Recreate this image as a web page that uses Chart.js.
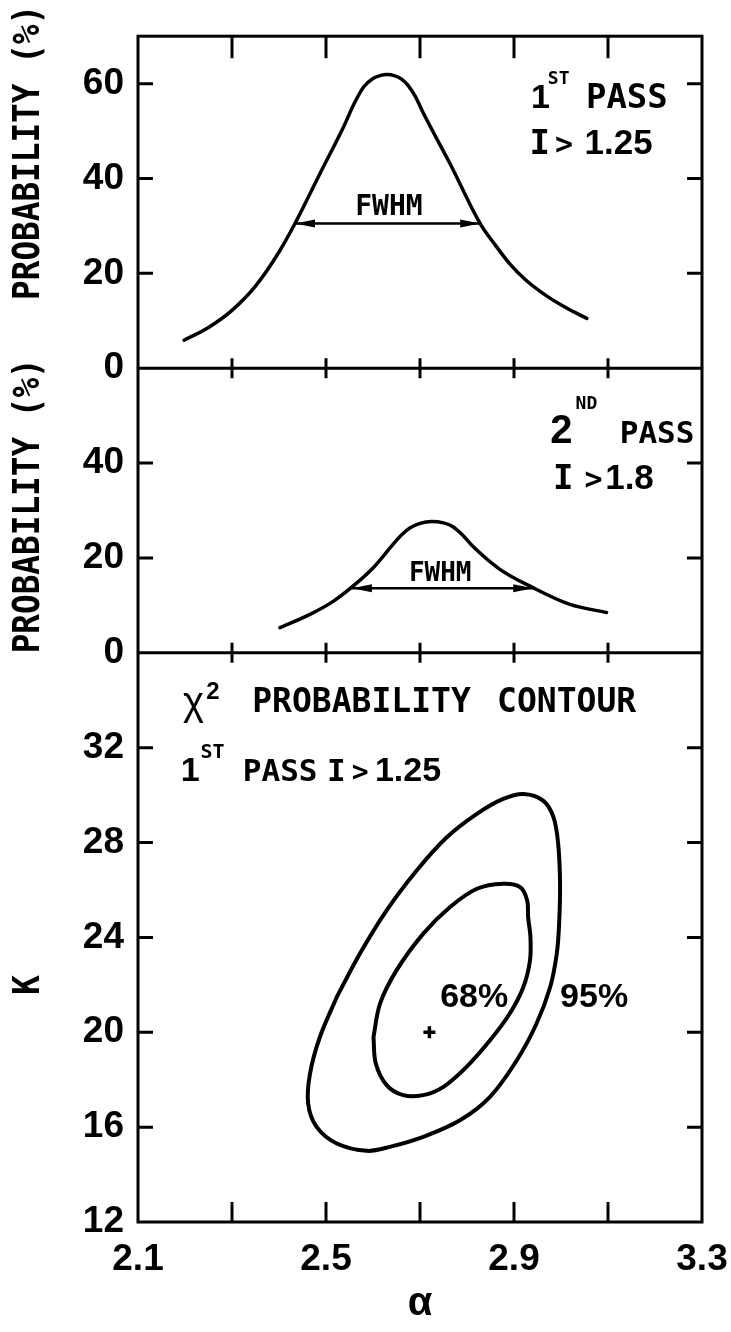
<!DOCTYPE html>
<html>
<head>
<meta charset="utf-8">
<title>Probability vs alpha</title>
<script src="https://cdn.jsdelivr.net/npm/chart.js@4.4.1/dist/chart.umd.min.js"></script>
<style>
  html, body { margin: 0; padding: 0; background: #fff; }
  #chart { display: block; }
</style>
</head>
<body>
<canvas id="chart" width="731" height="1332"></canvas>
<script>
// alpha axis: labelled values and tick marks
const alphaLabels = [2.1, 2.5, 2.9, 3.3];
const alphaMarks = [2.3, 2.5, 2.7, 2.9, 3.1];

// y ticks of the three panels
const probTopTicks = [0, 20, 40, 60];
const probMidTicks = [0, 20, 40];
const kTicks = [12, 16, 20, 24, 28, 32];

// 1st pass, I > 1.25
const pass1Alpha = [2.198, 2.250, 2.300, 2.350, 2.400, 2.434, 2.487, 2.537, 2.560, 2.580, 2.600, 2.615, 2.630, 2.645, 2.660, 2.675, 2.690, 2.707, 2.764, 2.828, 2.860, 2.891, 2.925, 2.970, 3.010, 3.055];
const pass1Prob = [5.9, 8.6, 12.2, 17.3, 24.5, 30.5, 41.0, 50.8, 55.8, 59.3, 61.1, 61.7, 61.9, 61.7, 61.0, 59.6, 57.3, 53.8, 43.1, 30.5, 26.0, 22.0, 18.6, 15.2, 12.8, 10.5];
const pass1Fwhm = [2.434, 2.828];
const pass1Half = 30.5;

// 2nd pass, I > 1.8
const pass2Alpha = [2.402, 2.466, 2.516, 2.558, 2.601, 2.643, 2.660, 2.680, 2.700, 2.725, 2.750, 2.770, 2.790, 2.813, 2.870, 2.941, 3.019, 3.097];
const pass2Prob = [5.3, 8.1, 10.9, 14.1, 18.0, 22.9, 24.8, 26.4, 27.3, 27.7, 27.4, 26.6, 24.9, 22.4, 17.6, 13.7, 10.2, 8.5];
const pass2Fwhm = [2.555, 2.941];
const pass2Half = 13.6;

// chi-square contours (closed loops)
const c95Alpha = [2.523, 2.572, 2.629, 2.693, 2.757, 2.821, 2.877, 2.920, 2.962, 2.984, 2.994, 2.998, 2.996, 2.991, 2.977, 2.948, 2.906, 2.849, 2.785, 2.707, 2.636, 2.587, 2.523, 2.480, 2.462, 2.466, 2.487, 2.523];
const c95K = [21.49, 23.31, 25.14, 26.82, 28.22, 29.21, 29.84, 30.05, 29.77, 29.07, 27.94, 26.26, 24.58, 23.31, 21.91, 20.37, 18.82, 17.28, 16.29, 15.59, 15.17, 15.0, 15.31, 16.01, 17.0, 18.26, 19.80, 21.49];
const c68Alpha = [2.601, 2.615, 2.650, 2.707, 2.764, 2.821, 2.877, 2.913, 2.928, 2.930, 2.935, 2.934, 2.920, 2.891, 2.849, 2.799, 2.750, 2.707, 2.664, 2.629, 2.606, 2.601];
const c68K = [19.80, 21.21, 22.61, 24.16, 25.28, 26.05, 26.26, 26.12, 25.56, 24.86, 24.01, 23.03, 21.91, 20.79, 19.66, 18.54, 17.70, 17.35, 17.35, 17.77, 18.68, 19.80];
const bestAlpha = [2.72];
const bestK = [20];

const pts = (xs, ys) => xs.map((x, i) => ({ x: x, y: ys[i] }));

const SANS_B = n => `bold ${n}px "Liberation Sans", Arial, sans-serif`;
const SANS = n => `${n}px "Liberation Sans", Arial, sans-serif`;
const MONO_B = n => `bold ${n}px "DejaVu Sans Mono", "Liberation Mono", monospace`;

// lettering inside the panels, placed in data units of each panel
const notes = [
  { axis: 'yTop', x: 2.936, y: 54.9, text: '1', font: SANS_B(34) },
  { axis: 'yTop', x: 2.972, y: 60.0, text: 'ST', font: MONO_B(18) },
  { axis: 'yTop', x: 3.053, y: 54.9, text: 'PASS', font: MONO_B(34) },
  { axis: 'yTop', x: 2.933, y: 45.2, text: 'I', font: MONO_B(34) },
  { axis: 'yTop', x: 2.987, y: 45.2, text: '>', font: MONO_B(30) },
  { axis: 'yTop', x: 3.050, y: 45.2, text: '1.25', font: SANS_B(35) },
  { axis: 'yTop', x: 2.634, y: 32.4, text: 'FWHM', font: MONO_B(28), align: 'center' },

  { axis: 'yMid', x: 2.977, y: 44.3, text: '2', font: SANS_B(40) },
  { axis: 'yMid', x: 3.031, y: 51.3, text: 'ND', font: MONO_B(18) },
  { axis: 'yMid', x: 3.125, y: 44.3, text: 'PASS', font: MONO_B(31) },
  { axis: 'yMid', x: 2.983, y: 34.5, text: 'I', font: MONO_B(34) },
  { axis: 'yMid', x: 3.050, y: 34.5, text: '>', font: MONO_B(30) },
  { axis: 'yMid', x: 3.094, y: 34.5, text: '1.8', font: SANS_B(35) },
  { axis: 'yMid', x: 2.743, y: 15.2, text: 'FWHM', font: MONO_B(26), align: 'center' },

  { axis: 'yK', x: 2.196, y: 33.36, text: 'χ', font: SANS(40) },
  { axis: 'yK', x: 2.245, y: 34.06, text: '2', font: SANS_B(24) },
  { axis: 'yK', x: 2.343, y: 33.49, text: 'PROBABILITY', font: MONO_B(33) },
  { axis: 'yK', x: 2.864, y: 33.49, text: 'CONTOUR', font: MONO_B(33) },
  { axis: 'yK', x: 2.191, y: 30.59, text: '1', font: SANS_B(34) },
  { axis: 'yK', x: 2.233, y: 31.58, text: 'ST', font: MONO_B(20) },
  { axis: 'yK', x: 2.323, y: 30.59, text: 'PASS', font: MONO_B(31) },
  { axis: 'yK', x: 2.502, y: 30.59, text: 'I', font: MONO_B(31) },
  { axis: 'yK', x: 2.555, y: 30.59, text: '>', font: MONO_B(28) },
  { axis: 'yK', x: 2.604, y: 30.59, text: '1.25', font: SANS_B(34) },
  { axis: 'yK', x: 2.743, y: 21.07, text: '68%', font: SANS_B(34) },
  { axis: 'yK', x: 2.998, y: 21.07, text: '95%', font: SANS_B(34) }
];

// rotated axis titles, centred on a value of their own panel
const yTitles = [
  { axis: 'yTop', y: 45.5, text: 'PROBABILITY (%)' },
  { axis: 'yMid', y: 31, text: 'PROBABILITY (%)' },
  { axis: 'yK', y: 22, text: 'K' }
];

const fwhmSets = [1, 3];

const figure = {
  id: 'figure',
  afterDraw(chart) {
    const { ctx, chartArea: a, scales } = chart;
    const x = scales.x;
    const seams = [scales.yTop.getPixelForValue(0), scales.yMid.getPixelForValue(0)];
    ctx.save();
    ctx.strokeStyle = '#000';
    ctx.fillStyle = '#000';
    ctx.lineCap = 'butt';

    // panel frames
    ctx.lineWidth = 3;
    ctx.strokeRect(a.left, a.top, a.right - a.left, a.bottom - a.top);
    ctx.beginPath();
    seams.forEach(s => { ctx.moveTo(a.left, s); ctx.lineTo(a.right, s); });

    // tick marks, pointing into the panels
    alphaMarks.forEach(v => {
      const px = x.getPixelForValue(v);
      ctx.moveTo(px, a.top); ctx.lineTo(px, a.top + 22);
      seams.forEach(s => { ctx.moveTo(px, s - 10); ctx.lineTo(px, s + 10); });
      ctx.moveTo(px, a.bottom); ctx.lineTo(px, a.bottom - 20);
    });
    [[scales.yTop, probTopTicks], [scales.yMid, probMidTicks], [scales.yK, kTicks]].forEach(([sc, vals]) => {
      vals.filter(v => v > sc.min).forEach(v => {
        const py = sc.getPixelForValue(v);
        ctx.moveTo(a.left, py); ctx.lineTo(a.left + 15, py);
        ctx.moveTo(a.right, py); ctx.lineTo(a.right - 15, py);
      });
    });
    ctx.stroke();

    // FWHM arrow heads
    fwhmSets.forEach(i => {
      const p = chart.getDatasetMeta(i).data;
      [[p[0], 1], [p[1], -1]].forEach(([pt, dir]) => {
        ctx.beginPath();
        ctx.moveTo(pt.x, pt.y);
        ctx.lineTo(pt.x + dir * 20, pt.y - 4);
        ctx.lineTo(pt.x + dir * 20, pt.y + 4);
        ctx.closePath();
        ctx.fill();
      });
    });

    // lettering
    ctx.textBaseline = 'alphabetic';
    notes.forEach(n => {
      ctx.font = n.font;
      ctx.textAlign = n.align || 'left';
      ctx.fillText(n.text, x.getPixelForValue(n.x), scales[n.axis].getPixelForValue(n.y));
    });

    // y titles, tall and a little condensed
    ctx.font = MONO_B(38);
    ctx.textAlign = 'center';
    ctx.textBaseline = 'middle';
    yTitles.forEach(t => {
      ctx.save();
      ctx.translate(29, scales[t.axis].getPixelForValue(t.y));
      ctx.rotate(-Math.PI / 2);
      ctx.scale(0.86, 1);
      ctx.fillText(t.text, 0, 0);
      ctx.restore();
    });
    ctx.restore();
  }
};

const yScale = (min, max, weight, tickVals) => ({
  type: 'linear',
  axis: 'y',
  position: 'left',
  stack: 'panels',
  stackWeight: weight,
  min: min,
  max: max,
  grid: { display: false, drawTicks: false },
  border: { display: false },
  ticks: { padding: 14, color: '#000', font: { family: '"Liberation Sans", Arial, sans-serif', size: 37, weight: 'bold' } },
  afterBuildTicks: s => { s.ticks = tickVals.map(v => ({ value: v })); },
  afterFit: s => { s.width = 138; }
});

const line = (data, axis, width, smooth) => Object.assign({
  data: data,
  yAxisID: axis,
  showLine: true,
  borderColor: '#000',
  borderWidth: width,
  pointRadius: 0,
  fill: false,
  borderJoinStyle: 'round',
  borderCapStyle: 'round'
}, smooth);

new Chart(document.getElementById('chart'), {
  type: 'scatter',
  data: {
    datasets: [
      line(pts(pass1Alpha, pass1Prob), 'yTop', 3.5, { cubicInterpolationMode: 'monotone' }),
      line(pts(pass1Fwhm, [pass1Half, pass1Half]), 'yTop', 2.5, { tension: 0 }),
      line(pts(pass2Alpha, pass2Prob), 'yMid', 3.5, { cubicInterpolationMode: 'monotone' }),
      line(pts(pass2Fwhm, [pass2Half, pass2Half]), 'yMid', 2.5, { tension: 0 }),
      line(pts(c95Alpha, c95K), 'yK', 4, { tension: 0.35 }),
      line(pts(c68Alpha, c68K), 'yK', 4, { tension: 0.35 }),
      {
        data: pts(bestAlpha, bestK),
        yAxisID: 'yK',
        pointStyle: 'cross',
        pointRadius: 6,
        borderWidth: 3.5,
        borderColor: '#000'
      }
    ]
  },
  options: {
    responsive: false,
    animation: false,
    devicePixelRatio: 1,
    layout: { padding: { left: 0, right: 29, top: 35, bottom: 0 } },
    plugins: { legend: { display: false }, tooltip: { enabled: false } },
    scales: {
      x: {
        type: 'linear',
        position: 'bottom',
        min: 2.1,
        max: 3.3,
        grid: { display: false, drawTicks: false },
        border: { display: false },
        ticks: { padding: 16, color: '#000', maxRotation: 0, font: { family: '"Liberation Sans", Arial, sans-serif', size: 37, weight: 'bold' } },
        title: { display: true, text: 'α', color: '#000', padding: { top: 0, bottom: 4 }, font: { family: '"Liberation Sans", Arial, sans-serif', size: 40, weight: 'bold' } },
        afterBuildTicks: s => { s.ticks = alphaLabels.map(v => ({ value: v })); },
        afterFit: s => { s.height = 110; s.paddingLeft = 0; s.paddingRight = 0; }
      },
      yK: yScale(12, 36, 12, kTicks),
      yMid: yScale(0, 60, 6, probMidTicks),
      yTop: yScale(0, 70, 7, probTopTicks)
    }
  },
  plugins: [figure]
});
</script>
</body>
</html>
